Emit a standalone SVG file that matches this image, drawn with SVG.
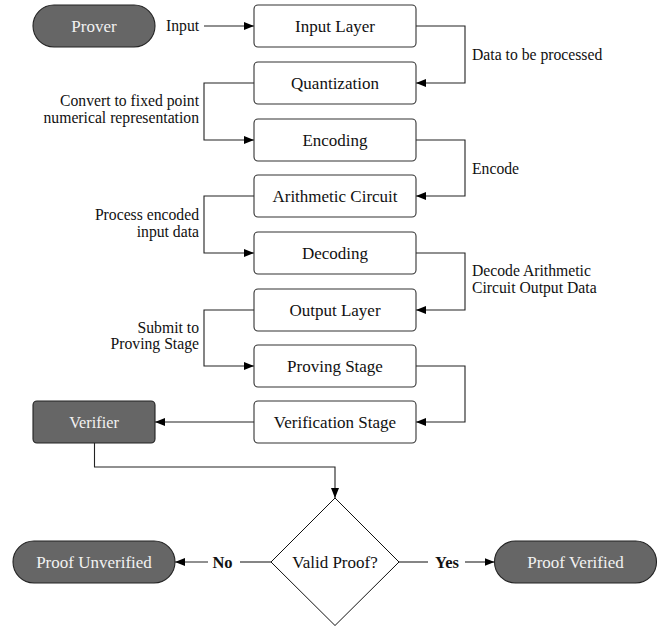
<svg xmlns="http://www.w3.org/2000/svg" width="658" height="626" viewBox="0 0 658 626">
<defs>
<marker id="ah" viewBox="0 0 10 8" refX="10" refY="4" markerWidth="10" markerHeight="8" orient="auto" markerUnits="userSpaceOnUse"><path d="M0,0 L10,4 L0,8 z" fill="#000"/></marker>
<style>
.box{fill:#fff;stroke:#333;stroke-width:1.1}
.dark{fill:#666;stroke:#222;stroke-width:1.1}
.dia{fill:#fff;stroke:#111;stroke-width:1}
.t{font-family:"Liberation Serif","Times New Roman",serif;font-size:17px;fill:#111;text-anchor:middle}
.tw{font-family:"Liberation Serif","Times New Roman",serif;font-size:17px;fill:#f2f2f2;text-anchor:middle}
.lab{font-family:"Liberation Serif","Times New Roman",serif;font-size:15.7px;fill:#111}
.r{text-anchor:end}
.b{font-weight:bold;font-size:16.5px;text-anchor:middle}
.c{fill:none;stroke:#222;stroke-width:1.1}
.ca{fill:none;stroke:#222;stroke-width:1.1;marker-end:url(#ah)}
</style>
</defs>
<g id="connectors">
<path class="ca" d="M204,26 H254"/>
<path class="ca" d="M416,26 H465 V83 H416"/>
<path class="ca" d="M254,83 H204 V140 H254"/>
<path class="ca" d="M416,140 H465 V196 H416"/>
<path class="ca" d="M254,196 H204 V253 H254"/>
<path class="ca" d="M416,253 H465 V310 H416"/>
<path class="ca" d="M254,310 H204 V366 H254"/>
<path class="ca" d="M416,366 H465 V422 H416"/>
<path class="ca" d="M254,422 H155"/>
<path class="ca" d="M94.5,443 V467 H335 V498"/>
<path class="c" d="M271,562 H240"/>
<path class="ca" d="M208,562 H175"/>
<path class="c" d="M399,562 H428"/>
<path class="ca" d="M465,562 H494.5"/>
<text class="lab" x="166" y="31">Input</text>
<text class="lab" x="472" y="59.5">Data to be processed</text>
<text class="lab r" x="199" y="106">Convert to fixed point</text>
<text class="lab r" x="199" y="123.3">numerical representation</text>
<text class="lab" x="472" y="173.5">Encode</text>
<text class="lab r" x="199" y="220">Process encoded</text>
<text class="lab r" x="199" y="236.8">input data</text>
<text class="lab" x="472" y="276">Decode Arithmetic</text>
<text class="lab" x="472" y="292.7">Circuit Output Data</text>
<text class="lab r" x="199" y="332.7">Submit to</text>
<text class="lab r" x="199" y="349.4">Proving Stage</text>
<text class="lab b" x="222.5" y="568">No</text>
<text class="lab b" x="447" y="568">Yes</text>
</g>
<g id="prover"><rect class="dark" x="33" y="5" width="122" height="42" rx="21"/><text class="tw" x="94" y="32">Prover</text></g>
<g id="input-layer"><rect class="box" x="254" y="5" width="162" height="42" rx="4"/><text class="t" x="335" y="32">Input Layer</text></g>
<g id="quantization"><rect class="box" x="254" y="62" width="162" height="42" rx="4"/><text class="t" x="335" y="89">Quantization</text></g>
<g id="encoding"><rect class="box" x="254" y="119" width="162" height="42" rx="4"/><text class="t" x="335" y="146">Encoding</text></g>
<g id="arithmetic-circuit"><rect class="box" x="254" y="175" width="162" height="42" rx="4"/><text class="t" x="335" y="202">Arithmetic Circuit</text></g>
<g id="decoding"><rect class="box" x="254" y="232" width="162" height="42" rx="4"/><text class="t" x="335" y="259">Decoding</text></g>
<g id="output-layer"><rect class="box" x="254" y="289" width="162" height="42" rx="4"/><text class="t" x="335" y="316">Output Layer</text></g>
<g id="proving-stage"><rect class="box" x="254" y="345" width="162" height="42" rx="4"/><text class="t" x="335" y="372">Proving Stage</text></g>
<g id="verification-stage"><rect class="box" x="254" y="401" width="162" height="42" rx="4"/><text class="t" x="335" y="428">Verification Stage</text></g>
<g id="verifier"><rect class="dark" x="33" y="401" width="122" height="42" rx="4"/><text class="tw" x="94" y="428" style="font-size:16.3px">Verifier</text></g>
<g id="valid-proof"><polygon class="dia" points="335,498 399,562 335,625.5 271,562"/><text class="t" x="335" y="568">Valid Proof?</text></g>
<g id="proof-unverified"><rect class="dark" x="13" y="541" width="162" height="42" rx="21"/><text class="tw" x="94" y="568">Proof Unverified</text></g>
<g id="proof-verified"><rect class="dark" x="494.5" y="541" width="162" height="42" rx="21"/><text class="tw" x="575.5" y="568">Proof Verified</text></g>
</svg>
